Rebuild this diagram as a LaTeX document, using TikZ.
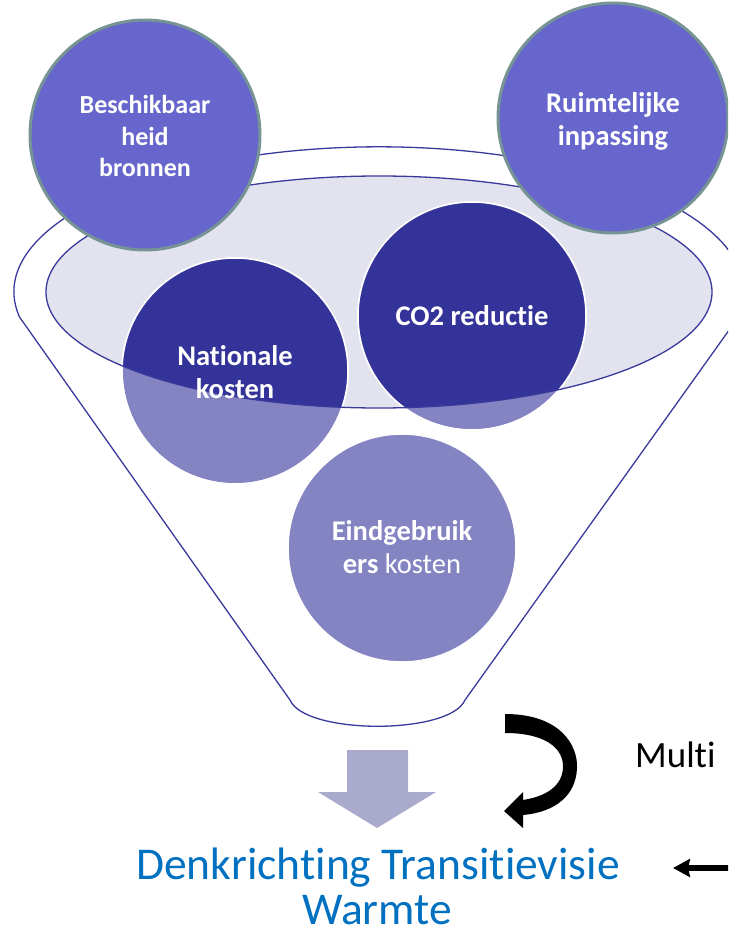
\documentclass[tikz,border=0pt]{standalone}
\usepackage{fontspec}
\setmainfont{Carlito}[Ligatures=NoCommon]
\usetikzlibrary{arrows.meta}
\definecolor{topfill}{HTML}{6666CC}
\definecolor{topedge}{HTML}{779494}
\definecolor{darkc}{HTML}{333399}
\definecolor{lightc}{HTML}{8484C2}
\definecolor{ellfill}{HTML}{E2E3EE}
\definecolor{funnelc}{HTML}{3A3A9C}
\definecolor{arrowfill}{HTML}{AAAACC}
\definecolor{titleblue}{HTML}{0070C0}
\begin{document}
\begin{tikzpicture}[x=1pt,y=-1pt,
  topcircle/.style={circle, fill=topfill, draw=topedge, line width=3pt, inner sep=0pt, minimum size=230pt},
  midcircle/.style={circle, fill=lightc, draw=white, line width=1.5pt, inner sep=0pt},
  funnelline/.style={draw=funnelc, line width=1.3pt},
  ctext/.style={text=white, font=\bfseries\fontsize{28.5}{33}\selectfont, align=center},
  stext/.style={text=white, font=\bfseries\fontsize{26}{31.5}\selectfont, align=center},
  titletext/.style={text=titleblue, font=\fontsize{45.5}{50}\selectfont, anchor=base, inner sep=0pt}]
\useasboundingbox (0,0) rectangle (728,933);
\clip (0,0) rectangle (728,933);
% funnel outline
\draw[funnelline, fill=white, line join=round] (19.5,317) arc[start angle=170,end angle=370,x radius=365,y radius=145]
  -- (465,700) .. controls (450,735) and (305,735) .. (290,700) -- cycle;
% inner ellipse
\fill[ellfill] (379,292) ellipse[x radius=333,y radius=116];
% middle circles
\node[midcircle, minimum size=226pt] (nat) at (235,371) {};
\node[midcircle, minimum size=228pt] (co2) at (472,316) {};
\node[midcircle, minimum size=228pt] (eind) at (402,548) {};
\begin{scope}
  \clip (379,292) ellipse[x radius=333,y radius=116];
  \fill[darkc] (nat.center) circle[radius=113];
  \fill[darkc] (co2.center) circle[radius=114];
\end{scope}
\draw[white, line width=1.5pt] (nat.center) circle[radius=113];
\draw[white, line width=1.5pt] (co2.center) circle[radius=114];
\draw[funnelline] (379,292) ellipse[x radius=333,y radius=116];
\node[ctext] (nattext) at ([yshift=-1pt]nat.center) {Nationale\\kosten};
\node[ctext] (co2text) at (co2.center) {CO2 reductie};
\node[ctext] (eindtext) at ([yshift=1pt]eind.center) {Eindgebruik\\ers \mdseries kosten};
% top circles
\node[topcircle] (besch) at (145,135) {};
\node[stext] (beschtext) at ([yshift=-1pt]besch.center) {Beschikbaar\\heid\\bronnen};
\node[topcircle] (ruimte) at (613,118) {};
\node[ctext] (ruimtetext) at ([yshift=-3pt]ruimte.center) {Ruimtelijke\\inpassing};
% down block arrow
\fill[arrowfill] (347,750) -- (408,750) -- (408,792) -- (436,792) -- (377,828) -- (318,792) -- (347,792) -- cycle;
% curved black arrow
\fill[black] (505,714) .. controls (560,714) and (578,745) .. (577,768)
  .. controls (576,795) and (556,812) .. (523,815)
  -- (523,828) -- (504,811) -- (523,792) -- (523,800)
  .. controls (548,796) and (562,785) .. (563,768)
  .. controls (564,748) and (545,733) .. (505,733) -- cycle;
\node[anchor=base west, font=\fontsize{37}{40}\selectfont, inner sep=0pt] (multi) at (635,767) {Multi};
% title
\node[titletext] (title1) at (378,879) {Denkrichting Transitievisie};
\node[titletext] (title2) at (377,924) {Warmte};
% horizontal arrow
\coordinate (hstart) at (745,868);
\coordinate (htip) at (673,868);
\draw[line width=6pt, -{Stealth[length=17pt,width=18pt,inset=2pt]}] (hstart) -- (htip);
\end{tikzpicture}
\end{document}
